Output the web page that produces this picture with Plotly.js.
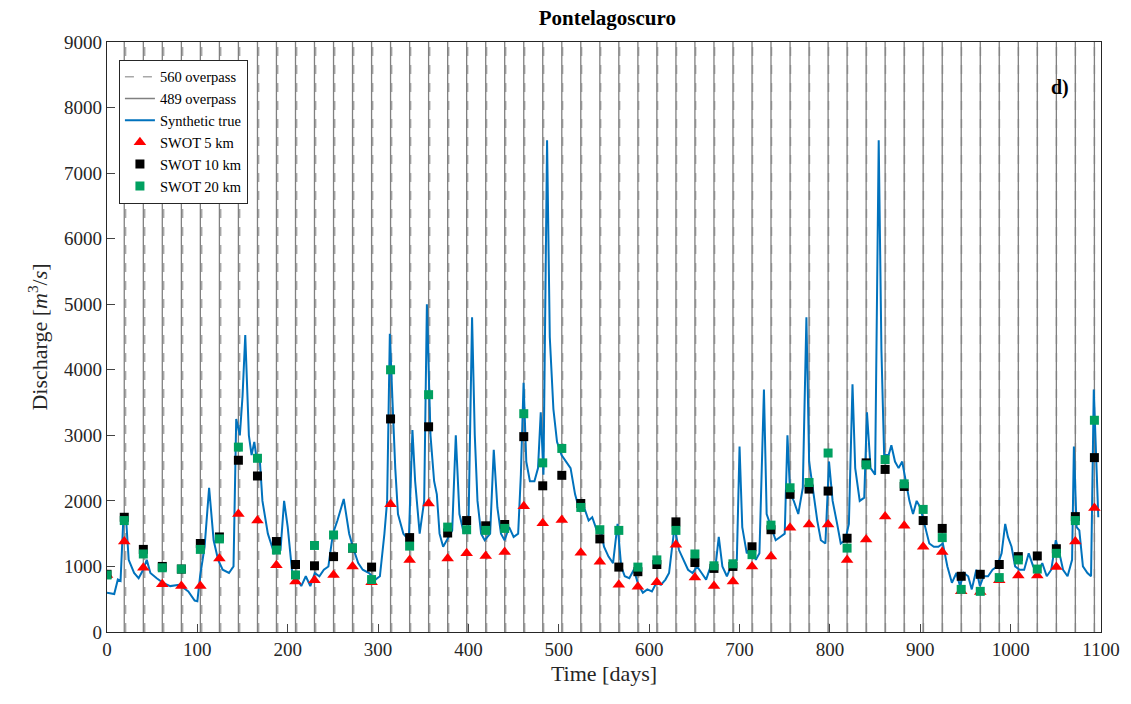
<!DOCTYPE html>
<html><head><meta charset="utf-8">
<script src="https://cdn.plot.ly/plotly-3.0.1.min.js"></script>
<style>body{margin:0}#c{width:1131px;height:704px}</style></head>
<body><div id="c"></div>
<script>
const pass489 = [19.1,40.2,61.2,82.3,103.3,124.4,145.4,166.5,187.5,208.6,229.6,250.7,271.7,292.8,313.8,334.9,355.9,377.0,398.0,419.1,440.1,461.2,482.2,503.3,524.3,545.4,566.4,587.5,608.5,629.6,650.6,671.7,692.7,713.8,734.8,755.9,776.9,798.0,819.0,840.1,861.1,882.2,903.2,924.3,945.3,966.4,987.4,1008.5,1029.5,1050.6,1071.6,1092.7];
const pass560 = [20.6,41.7,62.7,83.7,104.8,125.8,146.8,167.8,188.9,209.9,230.9,252.0,273.0,294.0,315.0,336.0,357.1,378.1,399.1,420.1,441.2,462.2,483.2,504.2,525.2,546.3,567.3,588.3,609.3,630.3,651.4,672.4,693.4,714.4,735.4,756.4,777.4,798.5,819.5,840.5,861.5,882.5,903.5,924.6,945.6,966.6,987.6,1008.6,1029.6,1050.7,1071.7,1092.7];
const trueDays = [0,8,12,15,18,21,24,30,35,40,44,48,55,62,70,80,90,97,100,103,108,113,118,123,128,135,140,143,147,150,153,157,160,163,166,169,172,178,185,192,196,200,205,210,215,220,225,230,235,240,245,250,255,262,268,272,278,283,290,297,302,307,310,313,316,319,322,328,334,338,341,346,351,354,358,362,365,368,372,378,382,386,390,395,400,404,407,410,414,418,424,428,432,436,440,445,450,455,458,461,464,468,473,477,480,483,487,490,494,498,503,508,513,518,523,528,533,537,542,546,550,555,560,565,569,573,578,583,588,593,598,603,608,613,618,622,628,633,638,643,648,653,658,663,668,673,677,681,686,692,697,700,703,708,713,718,722,727,730,735,740,745,750,753,756,760,765,770,774,777,781,786,790,795,799,803,808,812,817,821,825,828,833,838,841,845,850,854,857,860,865,868,872,876,880,884,888,892,896,900,905,910,915,920,925,930,935,940,944,948,953,957,962,966,970,975,980,985,990,994,997,1001,1005,1010,1015,1020,1025,1030,1035,1040,1045,1050,1054,1058,1063,1068,1070,1073,1076,1080,1085,1089,1092,1095,1097];
const trueQ = [600,580,800,780,1700,1750,1100,900,820,950,1100,900,820,750,700,720,620,480,470,850,1300,2200,1400,1100,950,900,1000,3250,3000,3600,4530,3000,2700,2900,2600,2650,2000,1500,1200,1250,2000,1600,900,820,700,850,700,900,850,950,1000,1500,1700,2030,1500,1300,1050,950,900,800,850,1500,2000,4550,3500,2500,1800,1500,1400,3080,2300,1500,2000,5000,3000,2300,2100,1500,1300,1450,1550,3000,1800,1500,1600,4800,3000,2000,1500,1400,1500,2780,1900,1500,1400,1600,1450,1500,2400,3800,2600,2300,2300,2500,3350,2400,7500,4500,3400,2900,2700,2600,2500,2100,1850,1900,1700,1750,1550,1600,1300,1150,1050,1650,1000,850,820,950,720,600,650,620,750,720,800,900,1600,1250,1100,950,900,1000,900,800,1000,950,1450,1000,850,1050,1100,2830,1600,1200,1300,1100,1200,3700,1800,1600,1400,1450,1500,3000,2100,2000,1800,2200,4800,2600,2200,1700,1400,1350,2600,2000,1650,1350,1400,1650,3780,2500,2000,2050,3350,2500,2400,7500,4300,2700,2700,2850,2600,2500,2600,2300,2000,1800,2000,1900,1600,1350,1300,1300,1350,1000,750,900,700,900,850,650,950,700,850,850,950,1000,1200,1650,1450,1300,1000,950,950,1200,1000,900,1050,850,950,1400,1200,950,850,1100,2830,1600,1550,1000,900,850,3700,2300,1750];
const obsDays = [0].concat(pass489);
const swot5 = [870,1380,980,730,700,700,1120,1800,1700,1020,770,790,870,1000,760,1950,1100,1960,1120,1200,1160,1220,1920,1660,1710,1210,1070,720,690,760,1330,830,700,770,1000,1150,1590,1640,1640,1100,1410,1760,1620,1300,1220,620,610,790,860,860,990,1380,1890];
const swot10 = [880,1750,1260,1000,960,1350,1450,2620,2380,1380,1030,1010,1150,1280,990,3250,1440,3130,1510,1700,1620,1640,2980,2230,2390,1960,1420,990,920,1030,1680,1060,970,1000,1300,1560,2100,2180,2150,1430,2580,2480,2220,1700,1580,850,880,1030,1150,1160,1270,1760,2660];
const swot20 = [870,1700,1190,980,960,1260,1420,2820,2650,1250,870,1320,1480,1280,800,4000,1310,3620,1600,1560,1550,1580,3330,2580,2800,1900,1560,1550,990,1100,1550,1190,1010,1040,1180,1630,2200,2280,2730,1280,2550,2630,2260,1870,1440,650,620,830,1100,960,1200,1700,3230];
const xTicks = [0,100,200,300,400,500,600,700,800,900,1000,1100];
const yTicks = [0,1000,2000,3000,4000,5000,6000,7000,8000,9000];

function vlines(arr){const x=[],y=[];arr.forEach(t=>{x.push(t,t,null);y.push(0,9000,null);});return {x,y};}
const v560=vlines(pass560), v489=vlines(pass489);
const font='Liberation Serif, DejaVu Serif, serif';
const traces=[
 {x:v560.x,y:v560.y,mode:'lines',name:'560 overpass',line:{color:'#a8a8a8',width:1.5,dash:'dash'}},
 {x:v489.x,y:v489.y,mode:'lines',name:'489 overpass',line:{color:'#808080',width:1.3}},
 {x:trueDays,y:trueQ,mode:'lines',name:'Synthetic true',line:{color:'#0072BD',width:2}},
 {x:obsDays,y:swot5,mode:'markers',name:'SWOT 5 km',marker:{symbol:'triangle-up',color:'#ff0000',size:11}},
 {x:obsDays,y:swot10,mode:'markers',name:'SWOT 10 km',marker:{symbol:'square',color:'#000000',size:9}},
 {x:obsDays,y:swot20,mode:'markers',name:'SWOT 20 km',marker:{symbol:'square',color:'#00a060',size:9}}
];
const layout={
 width:1131,height:704,margin:{l:107,r:30,t:42,b:72},
 paper_bgcolor:'#fff',plot_bgcolor:'#fff',showlegend:true,
 font:{family:font,color:'#262626'},
 title:{text:'<b>Pontelagoscuro</b>',font:{size:21,color:'#000'},x:0.537,xanchor:'center',y:0.985,yanchor:'top'},
 xaxis:{range:[0,1100],tickvals:xTicks,ticks:'inside',ticklen:8,showgrid:false,zeroline:false,
  showline:true,mirror:true,linecolor:'#262626',linewidth:1.2,tickfont:{size:19},
  title:{text:'Time [days]',font:{size:22},standoff:6}},
 yaxis:{range:[0,9000],tickvals:yTicks,ticks:'inside',ticklen:8,showgrid:false,zeroline:false,
  showline:true,mirror:true,linecolor:'#262626',linewidth:1.2,tickfont:{size:19},
  title:{text:'Discharge [<i>m</i><sup>3</sup>/<i>s</i>]',font:{size:22},standoff:10}},
 legend:{x:0.012,y:0.97,xanchor:'left',yanchor:'top',bgcolor:'#fff',bordercolor:'#262626',borderwidth:1,
  font:{size:14.5,color:'#000'},tracegroupgap:0,itemwidth:30},
 annotations:[{text:'<b>d)</b>',xref:'paper',yref:'paper',x:0.97,y:0.945,showarrow:false,font:{size:20,color:'#000'}}]
};
Plotly.newPlot('c',traces,layout,{displayModeBar:false});
</script></body></html>
